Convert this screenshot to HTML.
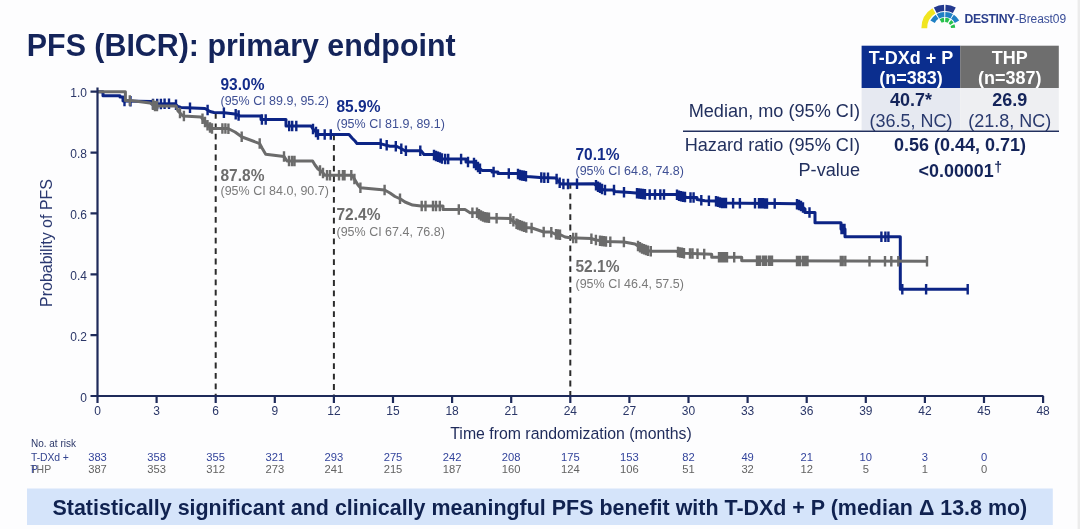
<!DOCTYPE html>
<html><head><meta charset="utf-8"><title>PFS (BICR): primary endpoint</title>
<style>
html,body{margin:0;padding:0;background:#fdfdfe;}
body{width:1080px;height:529px;overflow:hidden;position:relative;font-family:"Liberation Sans",Arial,sans-serif;}
svg{position:absolute;left:0;top:0;filter:blur(0.4px);}
svg text{font-family:"Liberation Sans",Arial,sans-serif;}
</style></head><body>
<svg width="1080" height="529" viewBox="0 0 1080 529">
<rect x="1077.6" y="0" width="2.4" height="529" fill="#ececec"/>
<!-- title -->
<text transform="translate(26.8 55.5) scale(1 1.04)" font-size="30.4" font-weight="bold" fill="#14245a">PFS (BICR): primary endpoint</text>

<!-- logo -->
<g id="logo">
<path d="M932.40 8.36A23.4 23.4 0 0 0 921.40 28.20L927.20 28.20A17.6 17.6 0 0 1 935.47 13.27Z" fill="#f1e520"/>
<path d="M944.06 4.81A23.4 23.4 0 0 0 933.81 7.54L936.73 13.01A17.2 17.2 0 0 1 944.26 11.01Z" fill="#23398f"/>
<path d="M955.79 7.54A23.4 23.4 0 0 0 945.54 4.81L945.34 11.01A17.2 17.2 0 0 1 952.87 13.01Z" fill="#23398f"/>
<path d="M935.69 14.69A16.3 16.3 0 0 0 930.41 20.55L934.82 22.89A11.3 11.3 0 0 1 938.48 18.83Z" fill="#1f80c4"/>
<path d="M944.23 11.91A16.3 16.3 0 0 0 936.65 14.08L939.15 18.41A11.3 11.3 0 0 1 944.41 16.91Z" fill="#1f80c4"/>
<path d="M952.95 14.08A16.3 16.3 0 0 0 945.37 11.91L945.19 16.91A11.3 11.3 0 0 1 950.45 18.41Z" fill="#1f80c4"/>
<path d="M959.19 20.55A16.3 16.3 0 0 0 953.91 14.69L951.12 18.83A11.3 11.3 0 0 1 954.78 22.89Z" fill="#1f80c4"/>
<path d="M943.89 17.84A10.4 10.4 0 0 0 939.60 19.19L941.70 22.83A6.2 6.2 0 0 1 944.26 22.02Z" fill="#27c14c"/>
<path d="M949.68 19.02A10.4 10.4 0 0 0 945.34 17.81L945.12 22.01A6.2 6.2 0 0 1 947.71 22.73Z" fill="#27c14c"/>
<path d="M953.62 22.69A10.4 10.4 0 0 0 951.20 20.00L948.62 23.31A6.2 6.2 0 0 1 950.06 24.91Z" fill="#27c14c"/>
<path d="M955.19 27.66A10.4 10.4 0 0 0 954.44 24.30L950.55 25.88A6.2 6.2 0 0 1 950.99 27.88Z" fill="#27c14c"/>
</g>
<text transform="translate(964.5 22.8) scale(1 1.04)" font-size="12" fill="#2b3f8c"><tspan font-weight="bold" font-size="12.2" letter-spacing="-0.35">DESTINY</tspan><tspan fill="#3b4f99" letter-spacing="-0.1">-Breast09</tspan></text>

<!-- results table -->
<rect x="861.6" y="45.7" width="98.6" height="42.3" fill="#0b2e8e"/>
<rect x="960.2" y="45.7" width="98.6" height="42.3" fill="#6e6e6e"/>
<rect x="861.6" y="88" width="98.6" height="42" fill="#e6e9f1"/>
<rect x="960.2" y="88" width="98.6" height="42" fill="#eeeff2"/>
<g font-size="18" font-weight="bold" fill="#fff" text-anchor="middle">
<text transform="translate(911 63.6) scale(1 1.04)">T-DXd + P</text>
<text transform="translate(911 83.8) scale(1 1.04)">(n=383)</text>
<text transform="translate(1009.8 63.6) scale(1 1.04)">THP</text>
<text transform="translate(1009.8 83.8) scale(1 1.04)">(n=387)</text>
</g>
<g font-size="18" fill="#14245a" text-anchor="middle">
<text transform="translate(911 105.5) scale(1 1.04)" font-weight="bold">40.7*</text>
<text transform="translate(911 126.7) scale(1 1.04)" fill="#2a3a6e">(36.5, NC)</text>
<text transform="translate(1009.8 105.5) scale(1 1.04)" font-weight="bold">26.9</text>
<text transform="translate(1009.8 126.7) scale(1 1.04)" fill="#2a3a6e">(21.8, NC)</text>
<text transform="translate(960 150.8) scale(1 1.04)" font-weight="bold">0.56 (0.44, 0.71)</text>
<text transform="translate(918.6 176.5) scale(1 1.04)" font-weight="bold" font-size="17.9" text-anchor="start">&lt;0.00001<tspan font-size="14" dy="-4.5" dx="0.5">†</tspan></text>
</g>
<g font-size="18.15" fill="#22305e" text-anchor="end">
<text transform="translate(860 116.5) scale(1 1.04)">Median, mo (95% CI)</text>
<text transform="translate(860 150.9) scale(1 1.04)">Hazard ratio (95% CI)</text>
<text transform="translate(860 175.6) scale(1 1.04)">P-value</text>
</g>
<line x1="683" y1="131.3" x2="1059" y2="131.3" stroke="#22305e" stroke-width="1.6"/>

<!-- dashed -->
<g stroke="#2b2b2b" stroke-width="2" stroke-dasharray="5.8 4.6"><line x1="215.7" y1="113" x2="215.7" y2="396.0"/><line x1="333.9" y1="134.5" x2="333.9" y2="396.0"/><line x1="570.3" y1="183" x2="570.3" y2="396.0"/></g>

<!-- curves -->
<polyline points="97.5,91.7 103.0,91.7 103.0,95.7 120.0,95.7 120.0,97.0 123.0,97.0 123.0,101.0 152.0,101.5 152.0,104.0 175.0,103.8 178.0,106.5 181.0,107.4 205.0,108.5 210.0,111.5 214.0,112.5 224.0,112.8 235.0,114.0 240.0,116.0 261.0,116.0 261.0,119.5 286.0,119.5 286.0,126.0 311.0,126.0 313.0,129.0 316.0,132.0 318.0,134.5 349.0,134.5 352.0,138.0 355.0,141.0 357.0,143.6 380.0,143.6 390.0,146.2 396.0,146.2 400.0,148.0 405.0,150.7 421.0,150.7 424.0,154.5 433.0,154.5 436.0,156.0 440.0,157.5 443.0,159.0 466.0,159.0 466.0,162.0 473.0,162.0 476.0,165.0 479.0,168.0 482.0,170.4 492.0,170.4 492.0,172.0 498.0,172.0 498.0,173.4 517.0,173.4 520.0,175.0 527.0,176.4 540.0,177.5 556.0,178.0 558.0,181.0 561.0,184.0 594.0,183.7 597.0,186.0 601.0,188.5 604.0,190.0 614.0,190.0 614.0,191.5 630.0,192.5 636.0,193.0 646.0,194.5 676.0,194.5 680.0,196.0 687.0,197.5 697.0,197.5 697.0,199.5 705.0,200.7 715.0,201.0 722.0,203.0 796.0,203.7 801.0,206.0 805.0,209.0 805.0,212.5 815.0,212.5 815.0,222.8 841.0,222.8 841.0,229.0 845.0,229.0 845.0,236.7 900.3,236.7 900.3,289.2 968.0,289.2" fill="none" stroke="#0c2485" stroke-width="3.0" stroke-linejoin="round"/>
<path d="M124.5 95.8v10.5M130.5 95.9v10.5M153.0 98.7v10.5M157.2 98.7v10.5M160.9 98.7v10.5M164.6 98.6v10.5M169.0 98.6v10.5M176.0 99.5v10.5M190.0 102.6v10.5M207.6 104.8v10.5M223.9 107.5v10.5M235.7 109.0v10.5M238.6 110.2v10.5M261.9 114.2v10.5M265.7 114.2v10.5M289.2 120.8v10.5M292.2 120.8v10.5M296.3 120.8v10.5M313.0 123.8v10.5M316.0 126.8v10.5M318.0 129.2v10.5M324.7 129.2v10.5M330.8 129.2v10.5M380.7 138.5v10.5M386.7 140.1v10.5M395.8 140.9v10.5M401.3 143.5v10.5M405.9 145.4v10.5M420.3 145.4v10.5M434.0 149.8v10.5M436.0 150.8v10.5M438.0 151.5v10.5M440.0 152.2v10.5M442.0 153.2v10.5M445.2 153.8v10.5M448.2 153.8v10.5M461.1 153.8v10.5M468.0 156.8v10.5M474.0 157.8v10.5M476.0 159.8v10.5M478.0 161.8v10.5M480.0 163.6v10.5M493.6 166.8v10.5M508.8 168.2v10.5M518.0 168.7v10.5M520.0 169.8v10.5M522.0 170.2v10.5M524.0 170.6v10.5M526.0 171.0v10.5M541.3 172.3v10.5M544.3 172.4v10.5M548.0 172.5v10.5M556.6 173.7v10.5M559.7 177.5v10.5M563.4 178.7v10.5M568.0 178.7v10.5M577.0 178.6v10.5M596.0 180.0v10.5M598.0 181.4v10.5M600.0 182.6v10.5M602.0 183.8v10.5M605.0 184.8v10.5M614.0 184.8v10.5M624.0 186.9v10.5M637.0 187.9v10.5M639.0 188.2v10.5M641.0 188.5v10.5M643.0 188.8v10.5M645.0 189.1v10.5M649.7 189.2v10.5M655.0 189.2v10.5M660.3 189.2v10.5M664.0 189.2v10.5M677.0 189.6v10.5M679.0 190.4v10.5M681.0 191.0v10.5M683.0 191.4v10.5M685.0 191.8v10.5M690.5 192.2v10.5M693.6 192.2v10.5M701.3 194.9v10.5M708.9 195.6v10.5M716.0 196.0v10.5M718.0 196.6v10.5M720.0 197.2v10.5M722.0 197.8v10.5M724.0 197.8v10.5M726.0 197.8v10.5M733.1 197.9v10.5M739.9 197.9v10.5M755.0 198.1v10.5M759.0 198.1v10.5M761.0 198.1v10.5M763.0 198.1v10.5M765.0 198.2v10.5M767.0 198.2v10.5M774.7 198.2v10.5M797.0 198.9v10.5M799.0 199.8v10.5M801.0 200.8v10.5M803.0 202.2v10.5M809.5 207.2v10.5M841.5 223.8v10.5M843.0 223.8v10.5M844.5 223.8v10.5M881.4 231.4v10.5M885.4 231.4v10.5M888.4 231.4v10.5M902.3 283.9v10.5M926.1 283.9v10.5M967.7 283.9v10.5" stroke="#0c2485" stroke-width="2.4"/>
<polyline points="97.5,91.7 125.4,91.7 125.4,100.5 131.0,100.5 150.0,103.0 155.0,106.0 176.0,106.0 178.0,111.0 183.0,116.0 201.0,117.0 205.0,122.0 209.0,127.0 212.0,128.5 228.0,128.5 235.0,132.0 242.0,137.0 259.7,143.6 262.0,148.0 265.7,154.2 284.0,156.4 287.0,161.0 312.6,161.0 315.0,165.0 318.0,169.0 321.7,171.6 325.0,175.3 352.0,175.3 355.0,180.0 358.0,185.0 360.4,187.7 384.6,190.0 390.0,193.0 395.0,196.5 400.5,199.0 405.0,202.0 412.6,205.1 421.0,206.0 443.0,206.0 443.0,209.6 465.0,209.6 470.0,212.7 477.0,212.7 480.0,215.0 484.0,217.0 490.0,218.0 510.0,218.5 513.0,221.0 517.0,224.0 522.0,226.0 526.0,227.5 532.0,228.0 538.0,230.0 543.7,232.0 551.0,232.0 555.0,234.0 561.0,235.0 565.0,237.0 570.0,237.8 591.0,238.5 596.0,240.0 606.0,241.6 624.0,242.0 635.0,244.0 638.0,246.0 642.0,248.5 647.0,250.5 651.0,251.3 676.0,251.3 680.0,252.5 685.0,253.3 711.7,254.2 711.7,257.2 741.7,257.2 741.7,260.8 927.0,261.3" fill="none" stroke="#6b6b6b" stroke-width="3.0" stroke-linejoin="round"/>
<path d="M129.8 95.2v10.5M153.0 99.5v10.5M155.0 100.8v10.5M157.0 100.8v10.5M180.0 107.8v10.5M183.9 110.8v10.5M202.5 113.6v10.5M205.0 116.8v10.5M207.5 119.9v10.5M210.0 122.2v10.5M212.0 123.2v10.5M222.4 123.2v10.5M225.4 123.2v10.5M228.4 123.4v10.5M241.7 131.5v10.5M259.7 138.3v10.5M284.0 151.2v10.5M289.0 155.8v10.5M292.0 155.8v10.5M294.5 155.8v10.5M320.0 165.2v10.5M323.0 167.8v10.5M327.0 170.1v10.5M330.0 170.1v10.5M339.0 170.1v10.5M342.9 170.1v10.5M344.5 170.1v10.5M351.3 170.1v10.5M354.4 173.8v10.5M360.4 182.4v10.5M384.6 184.8v10.5M400.0 193.5v10.5M421.7 200.8v10.5M425.5 200.8v10.5M433.0 200.8v10.5M436.0 200.8v10.5M439.8 200.8v10.5M458.8 204.3v10.5M472.4 207.4v10.5M477.0 207.4v10.5M479.0 209.0v10.5M481.0 210.2v10.5M483.0 211.2v10.5M485.0 211.9v10.5M487.0 212.2v10.5M489.0 212.6v10.5M496.6 212.9v10.5M510.4 213.6v10.5M513.4 216.0v10.5M516.5 218.4v10.5M518.0 219.2v10.5M520.0 219.9v10.5M522.0 220.8v10.5M524.0 221.5v10.5M526.3 222.3v10.5M531.6 222.7v10.5M543.7 226.8v10.5M551.3 226.9v10.5M556.0 228.9v10.5M558.0 229.2v10.5M560.0 229.6v10.5M573.2 232.7v10.5M576.2 232.8v10.5M591.4 233.4v10.5M595.9 234.7v10.5M600.0 235.4v10.5M602.0 235.7v10.5M604.0 236.0v10.5M606.0 236.3v10.5M610.3 236.4v10.5M623.9 236.7v10.5M638.0 240.8v10.5M640.0 242.0v10.5M642.0 243.2v10.5M644.0 244.1v10.5M646.0 244.8v10.5M648.0 245.4v10.5M650.8 246.0v10.5M678.0 246.7v10.5M680.0 247.2v10.5M682.0 247.6v10.5M684.0 247.9v10.5M690.0 248.2v10.5M692.5 248.3v10.5M697.5 248.5v10.5M704.2 248.7v10.5M719.0 251.9v10.5M721.0 251.9v10.5M723.0 251.9v10.5M725.0 251.9v10.5M727.0 251.9v10.5M734.2 251.9v10.5M757.0 255.6v10.5M758.5 255.6v10.5M760.0 255.6v10.5M763.0 255.6v10.5M764.5 255.6v10.5M766.0 255.6v10.5M769.0 255.6v10.5M770.5 255.6v10.5M772.0 255.6v10.5M797.0 255.7v10.5M798.5 255.7v10.5M800.0 255.7v10.5M803.0 255.7v10.5M804.5 255.7v10.5M806.0 255.7v10.5M807.5 255.7v10.5M840.8 255.8v10.5M842.7 255.8v10.5M845.3 255.8v10.5M869.5 255.9v10.5M885.0 255.9v10.5M891.3 256.0v10.5M898.3 256.0v10.5M927.0 256.1v10.5" stroke="#6b6b6b" stroke-width="2.4"/>

<!-- axes -->
<path d="M97.5 87.5V403.0M90.5 396.0H1043.5M97.5 396.0v7M156.6 396.0v7M215.7 396.0v7M274.8 396.0v7M333.9 396.0v7M393.0 396.0v7M452.1 396.0v7M511.2 396.0v7M570.3 396.0v7M629.4 396.0v7M688.5 396.0v7M747.6 396.0v7M806.7 396.0v7M865.8 396.0v7M924.9 396.0v7M984.0 396.0v7M1043.1 396.0v7M97.5 396.0h-7M97.5 335.1h-7M97.5 274.3h-7M97.5 213.4h-7M97.5 152.6h-7M97.5 91.7h-7" stroke="#1e2a5a" stroke-width="2.2" fill="none"/>
<g font-size="12" fill="#2b3768" text-anchor="middle"><text transform="translate(97.5 414.5) scale(1 1.04)">0</text><text transform="translate(156.6 414.5) scale(1 1.04)">3</text><text transform="translate(215.7 414.5) scale(1 1.04)">6</text><text transform="translate(274.8 414.5) scale(1 1.04)">9</text><text transform="translate(333.9 414.5) scale(1 1.04)">12</text><text transform="translate(393.0 414.5) scale(1 1.04)">15</text><text transform="translate(452.1 414.5) scale(1 1.04)">18</text><text transform="translate(511.2 414.5) scale(1 1.04)">21</text><text transform="translate(570.3 414.5) scale(1 1.04)">24</text><text transform="translate(629.4 414.5) scale(1 1.04)">27</text><text transform="translate(688.5 414.5) scale(1 1.04)">30</text><text transform="translate(747.6 414.5) scale(1 1.04)">33</text><text transform="translate(806.7 414.5) scale(1 1.04)">36</text><text transform="translate(865.8 414.5) scale(1 1.04)">39</text><text transform="translate(924.9 414.5) scale(1 1.04)">42</text><text transform="translate(984.0 414.5) scale(1 1.04)">45</text><text transform="translate(1043.1 414.5) scale(1 1.04)">48</text></g>
<g font-size="12" fill="#2b3768" text-anchor="end"><text transform="translate(87 401.6) scale(1 1.04)">0</text><text transform="translate(87 340.7) scale(1 1.04)">0.2</text><text transform="translate(87 279.9) scale(1 1.04)">0.4</text><text transform="translate(87 219.0) scale(1 1.04)">0.6</text><text transform="translate(87 158.2) scale(1 1.04)">0.8</text><text transform="translate(87 97.3) scale(1 1.04)">1.0</text></g>
<text transform="translate(571 438.9) scale(1 1.04)" font-size="15.85" fill="#1e2a5a" text-anchor="middle">Time from randomization (months)</text>
<text transform="translate(52,243) rotate(-90) scale(1 1.04)" font-size="16" fill="#2a3870" text-anchor="middle">Probability of PFS</text>

<!-- annotations -->
<g font-weight="bold" font-size="15.5" fill="#132c8a">
<text transform="translate(220.5 89.7) scale(1 1.04)">93.0%</text>
<text transform="translate(336.5 112.2) scale(1 1.04)">85.9%</text>
<text transform="translate(575.5 159.7) scale(1 1.04)">70.1%</text>
</g>
<g font-size="12.5" fill="#3e4f94">
<text transform="translate(220.5 105.3) scale(1 1.04)">(95% CI 89.9, 95.2)</text>
<text transform="translate(336.5 128.1) scale(1 1.04)">(95% CI 81.9, 89.1)</text>
<text transform="translate(575.5 175) scale(1 1.04)">(95% CI 64.8, 74.8)</text>
</g>
<g font-weight="bold" font-size="15.5" fill="#6d6d6d">
<text transform="translate(220.5 180.8) scale(1 1.04)">87.8%</text>
<text transform="translate(336.5 220) scale(1 1.04)">72.4%</text>
<text transform="translate(575.5 272.3) scale(1 1.04)">52.1%</text>
</g>
<g font-size="12.5" fill="#7a7a7a">
<text transform="translate(220.5 195.3) scale(1 1.04)">(95% CI 84.0, 90.7)</text>
<text transform="translate(336.5 235.8) scale(1 1.04)">(95% CI 67.4, 76.8)</text>
<text transform="translate(575.5 287.6) scale(1 1.04)">(95% CI 46.4, 57.5)</text>
</g>

<!-- number at risk -->
<text transform="translate(31 446.7) scale(1 1.04)" font-size="10" fill="#2b3768">No. at risk</text>
<text transform="translate(31 461) scale(1 1.04)" font-size="10.4" fill="#34448f" letter-spacing="-0.1">T-DXd +</text>
<text transform="translate(30.2 472.8) scale(1 1.04)" font-size="10.5" fill="#6a6a6a">THP</text>
<text transform="translate(31 472.8) scale(1 1.04)" font-size="10.5" fill="#3a4a9a">P</text>
<g font-size="11.2" fill="#33449c" text-anchor="middle"><text transform="translate(97.5 460.8) scale(1 1.04)">383</text><text transform="translate(156.6 460.8) scale(1 1.04)">358</text><text transform="translate(215.7 460.8) scale(1 1.04)">355</text><text transform="translate(274.8 460.8) scale(1 1.04)">321</text><text transform="translate(333.9 460.8) scale(1 1.04)">293</text><text transform="translate(393.0 460.8) scale(1 1.04)">275</text><text transform="translate(452.1 460.8) scale(1 1.04)">242</text><text transform="translate(511.2 460.8) scale(1 1.04)">208</text><text transform="translate(570.3 460.8) scale(1 1.04)">175</text><text transform="translate(629.4 460.8) scale(1 1.04)">153</text><text transform="translate(688.5 460.8) scale(1 1.04)">82</text><text transform="translate(747.6 460.8) scale(1 1.04)">49</text><text transform="translate(806.7 460.8) scale(1 1.04)">21</text><text transform="translate(865.8 460.8) scale(1 1.04)">10</text><text transform="translate(924.9 460.8) scale(1 1.04)">3</text><text transform="translate(984.0 460.8) scale(1 1.04)">0</text></g>
<g font-size="11.2" fill="#626262" text-anchor="middle"><text transform="translate(97.5 472.5) scale(1 1.04)">387</text><text transform="translate(156.6 472.5) scale(1 1.04)">353</text><text transform="translate(215.7 472.5) scale(1 1.04)">312</text><text transform="translate(274.8 472.5) scale(1 1.04)">273</text><text transform="translate(333.9 472.5) scale(1 1.04)">241</text><text transform="translate(393.0 472.5) scale(1 1.04)">215</text><text transform="translate(452.1 472.5) scale(1 1.04)">187</text><text transform="translate(511.2 472.5) scale(1 1.04)">160</text><text transform="translate(570.3 472.5) scale(1 1.04)">124</text><text transform="translate(629.4 472.5) scale(1 1.04)">106</text><text transform="translate(688.5 472.5) scale(1 1.04)">51</text><text transform="translate(747.6 472.5) scale(1 1.04)">32</text><text transform="translate(806.7 472.5) scale(1 1.04)">12</text><text transform="translate(865.8 472.5) scale(1 1.04)">5</text><text transform="translate(924.9 472.5) scale(1 1.04)">1</text><text transform="translate(984.0 472.5) scale(1 1.04)">0</text></g>

<!-- banner -->
<rect x="27" y="488.5" width="1025.8" height="36.5" fill="#d5e4fa"/>
<text transform="translate(52.5 514.5) scale(1 1.04)" font-size="21.45" font-weight="bold" fill="#102250">Statistically significant and clinically meaningful PFS benefit with T-DXd + P (median Δ 13.8 mo)</text>
</svg>
</body></html>
